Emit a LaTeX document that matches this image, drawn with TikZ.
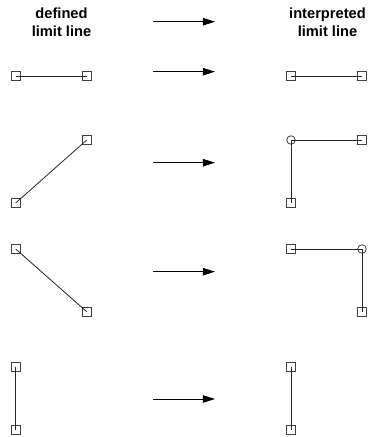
\documentclass[tikz,border=0pt]{standalone}
\usepackage{fontspec}
\setmainfont{Liberation Sans}
\usetikzlibrary{arrows.meta}
\begin{document}
\begin{tikzpicture}[x=0.75pt,y=-0.75pt,
  pt/.style={draw=black!75,line width=0.6pt,rectangle,minimum size=6.6pt,inner sep=0pt},
  cornerpt/.style={draw=black!75,line width=0.6pt,circle,minimum size=6.4pt,inner sep=0pt},
  seg/.style={line width=0.6pt,draw=black!85},
  arr/.style={line width=0.7pt,-{Triangle[length=9pt,width=5.5pt]}},
  head/.style={font=\bfseries\fontsize{11}{13.2}\selectfont,align=center,inner sep=0pt}]
\useasboundingbox (0,0) rectangle (378,437);
% headers
\node[head] (hl) at (61.5,22.5) {defined\\limit line};
\node[head] (hr) at (327.5,22.5) {interpreted\\limit line};
\coordinate (a0s) at (153,21.7); \coordinate (a0e) at (215,21.7);
\draw[arr] (a0s) -- (a0e);
% row 1
\node[pt] (l1a) at (15.7,76) {}; \node[pt] (l1b) at (86.7,76) {};
\draw[seg] (l1a.center) -- (l1b.center);
\coordinate (a1s) at (153,71.7); \coordinate (a1e) at (215,71.7);
\draw[arr] (a1s) -- (a1e);
\node[pt] (r1a) at (291,76) {}; \node[pt] (r1b) at (362,76) {};
\draw[seg] (r1a.center) -- (r1b.center);
% row 2
\node[pt] (l2a) at (15.7,203) {}; \node[pt] (l2b) at (86.7,140) {};
\draw[seg] (l2a.center) -- (l2b.center);
\coordinate (a2s) at (153,162.7); \coordinate (a2e) at (215,162.7);
\draw[arr] (a2s) -- (a2e);
\node[cornerpt] (r2c) at (291,140) {}; \node[pt] (r2b) at (362,140) {}; \node[pt] (r2a) at (291,203) {};
\draw[seg] (r2a.center) -- (r2c.center) -- (r2b.center);
% row 3
\node[pt] (l3a) at (15.7,249) {}; \node[pt] (l3b) at (86.7,311.7) {};
\draw[seg] (l3a.center) -- (l3b.center);
\coordinate (a3s) at (153,271.7); \coordinate (a3e) at (215,271.7);
\draw[arr] (a3s) -- (a3e);
\node[pt] (r3a) at (291,249) {}; \node[cornerpt] (r3c) at (362,249) {}; \node[pt] (r3b) at (362,311.7) {};
\draw[seg] (r3a.center) -- (r3c.center) -- (r3b.center);
% row 4
\node[pt] (l4a) at (15.7,366.7) {}; \node[pt] (l4b) at (15.7,430) {};
\draw[seg] (l4a.center) -- (l4b.center);
\coordinate (a4s) at (153,399); \coordinate (a4e) at (215,399);
\draw[arr] (a4s) -- (a4e);
\node[pt] (r4a) at (291,366.7) {}; \node[pt] (r4b) at (291,430) {};
\draw[seg] (r4a.center) -- (r4b.center);
\end{tikzpicture}
\end{document}
